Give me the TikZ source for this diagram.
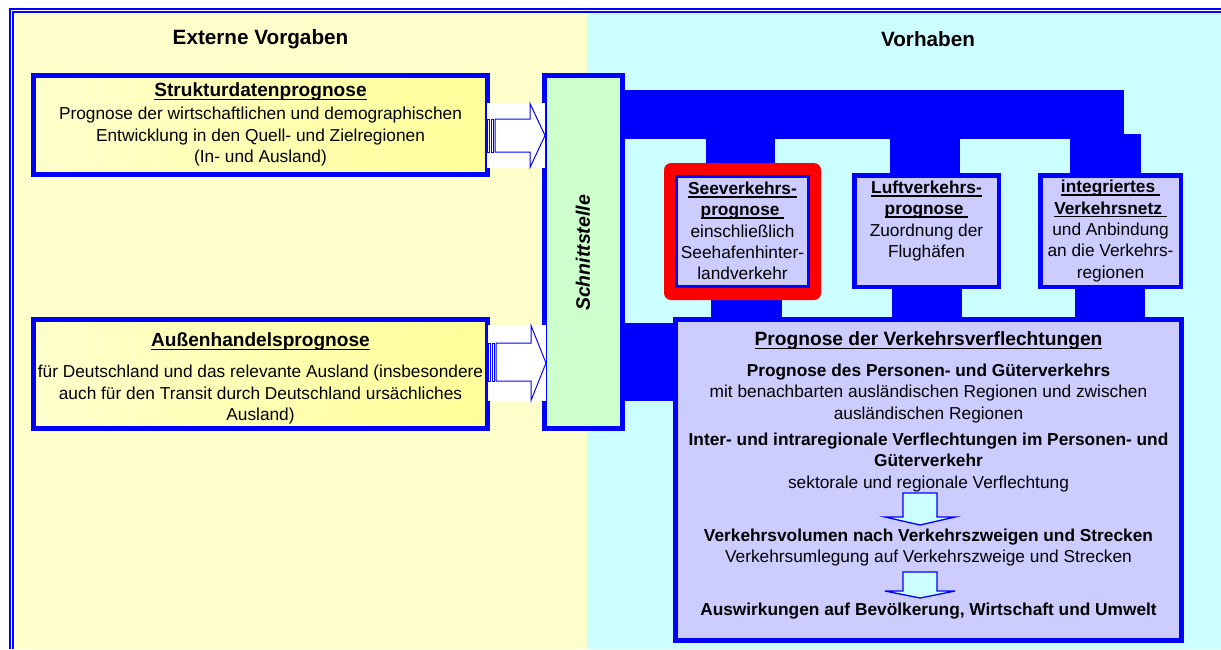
\documentclass[tikz,border=0pt]{standalone}
\usepackage{fontspec}
\setmainfont{Liberation Sans}
\usetikzlibrary{calc}
\definecolor{bgyellow}{HTML}{FFFFCC}
\definecolor{bgcyan}{HTML}{CCFFFF}
\definecolor{lav}{HTML}{CCCCFF}
\definecolor{mint}{HTML}{CCFFCC}
\definecolor{boxyel}{HTML}{FFFF99}
\definecolor{boxyellt}{HTML}{FFFFCC}
\definecolor{pblue}{HTML}{0000FF}
\definecolor{pred}{HTML}{FF0000}
\newcommand{\fsz}[2][21.3]{\fontsize{#2}{#1}\selectfont}
\newcommand{\myul}[1]{\setbox0=\hbox{#1}\rlap{\rule[-3.2pt]{\wd0}{1.6pt}}\box0}
\begin{document}
\begin{tikzpicture}[x=1pt,y=-1pt,
  every node/.style={inner sep=0pt, outer sep=0pt},
  ybox/.style={draw=pblue, line width=5pt, left color=boxyellt, right color=boxyel},
  lbox/.style={draw=pblue, fill=lav},
  bar/.style={fill=pblue},
  txt/.style={align=center, font=\fsz{17.3}},
  title/.style={font=\fsz{20.7}\bfseries},
  rarrow/.style={draw=pblue, line width=1pt, fill=white},
  darrow/.style={draw=pblue, line width=1.3pt, fill=bgcyan, line join=miter}]
\useasboundingbox (0,0) rectangle (1221,649);
\clip (0,0) rectangle (1221,649);
% backgrounds
\fill[bgyellow] (14,13) rectangle (587,649);
\fill[bgcyan] (587,13) rectangle (1221,649);
% double frame
\draw[pblue, line width=1.8pt] (10,649) -- (10,8.7) -- (1221,8.7);
\draw[pblue, line width=1.8pt] (13,649) -- (13,11.8) -- (1221,11.8);
% titles
\node[title] (tlinks) at (260.5,39.5) {Externe Vorgaben};
\node[title] (trechts) at (928,39.5) {Vorhaben};
% blue connector bars
\fill[bar] (625,90) rectangle (1124,139);
\fill[bar] (706,135) rectangle (775,166);
\fill[bar] (890,135) rectangle (960,176);
\fill[bar] (1070,134) rectangle (1141,176);
\fill[bar] (711,296) rectangle (782,320);
\fill[bar] (892,286) rectangle (962,320);
\fill[bar] (1075,286) rectangle (1145,320);
\fill[bar] (620,323) rectangle (676,401);
% left boxes
\node[ybox, minimum width=454pt, minimum height=99pt] (struk) at (260.5,125) {};
\node[ybox, minimum width=454pt, minimum height=109pt] (aussen) at (260.5,374) {};
\node[txt] (struktxt) at (260.5,124.5) {{\fsz{19.1}\bfseries\myul{Strukturdatenprognose}}\\[1.5pt]
Prognose der wirtschaftlichen und demographischen\\
Entwicklung in den Quell- und Zielregionen\\
(In- und Ausland)};
\node[txt] (aussentxt) at (260.5,378.5) {{\fsz{19.1}\bfseries\myul{Außenhandelsprognose}}\\[9.5pt]
für Deutschland und das relevante Ausland (insbesondere\\
auch für den Transit durch Deutschland ursächliches\\
Ausland)};
% Schnittstelle
\node[draw=pblue, line width=5pt, fill=mint, minimum width=78pt, minimum height=353pt] (schnitt) at (583.5,252) {};
\node[rotate=90, font=\fsz{19.5}\bfseries\itshape] (schnitttxt) at (583,253) {Schnittstelle};
% striped block arrows
\fill[white] (487,103) rectangle (545,168);
\fill[white] (488,325) rectangle (546,401);
\draw[rarrow] (495,119) -- (530,119) -- (530,103.5) -- (545,135.5) -- (530,167.5) -- (530,152) -- (495,152) -- cycle;
\draw[rarrow] (487.8,119) rectangle (489.8,152);
\draw[rarrow] (491.2,119) rectangle (493.6,152);
\draw[rarrow] (496,343) -- (531,343) -- (531,325.5) -- (546,363) -- (531,400.5) -- (531,381) -- (496,381) -- cycle;
\draw[rarrow] (488.8,343) rectangle (490.8,381);
\draw[rarrow] (492.2,343) rectangle (494.6,381);
% Vorhaben boxes
\node[fill=pred, rounded corners=7pt, minimum width=157pt, minimum height=137pt] (seered) at (742.5,231.5) {};
\node[lbox, line width=3pt, minimum width=132pt, minimum height=110pt] (see) at (742.5,231.5) {};
\node[lbox, line width=4.5pt, minimum width=144.5pt, minimum height=111.5pt] (luft) at (926.5,231) {};
\node[lbox, line width=4.5pt, minimum width=140.5pt, minimum height=111.5pt] (netz) at (1110.5,231) {};
\node[txt] (seetxt) at (742.5,231) {{\bfseries\myul{Seeverkehrs-}}\\{\bfseries\myul{prognose\ }}\\einschließlich\\Seehafenhinter-\\landverkehr};
\node[txt] (lufttxt) at (926.5,221) {{\bfseries\myul{Luftverkehrs-}}\\{\bfseries\myul{prognose\ }}\\Zuordnung der\\Flughäfen};
\node[txt] (netztxt) at (1110.5,231) {{\bfseries\myul{integriertes\ }}\\{\bfseries\myul{Verkehrsnetz\ }}\\und Anbindung\\an die Verkehrs-\\regionen};
% Prognose der Verkehrsverflechtungen
\node[lbox, line width=5pt, minimum width=506pt, minimum height=321pt] (prog) at (928.5,480) {};
\node[font=\fsz{19.2}\bfseries] (progtitle) at (928.5,341) {\myul{Prognose der Verkehrsverflechtungen}};
\node[txt] (p1) at (928.5,393.5) {{\bfseries Prognose des Personen- und Güterverkehrs}\\
mit benachbarten ausländischen Regionen und zwischen\\
ausländischen Regionen};
\node[txt] (p2) at (928.5,462.5) {{\bfseries Inter- und intraregionale Verflechtungen im Personen- und}\\
{\bfseries Güterverkehr}\\
sektorale und regionale Verflechtung};
\node[txt] (p3) at (928.5,547.5) {{\bfseries Verkehrsvolumen nach Verkehrszweigen und Strecken}\\
Verkehrsumlegung auf Verkehrszweige und Strecken};
\node[txt] (p4) at (928.5,611) {\bfseries Auswirkungen auf Bevölkerung, Wirtschaft und Umwelt};
% down block arrows
\draw[darrow] (903,493) -- (937,493) -- (937,517) -- (955,517) -- (920,525) -- (885,517) -- (903,517) -- cycle;
\draw[darrow] (903,572) -- (937,572) -- (937,591) -- (955,591) -- (920,598) -- (885,591) -- (903,591) -- cycle;
\end{tikzpicture}
\end{document}
